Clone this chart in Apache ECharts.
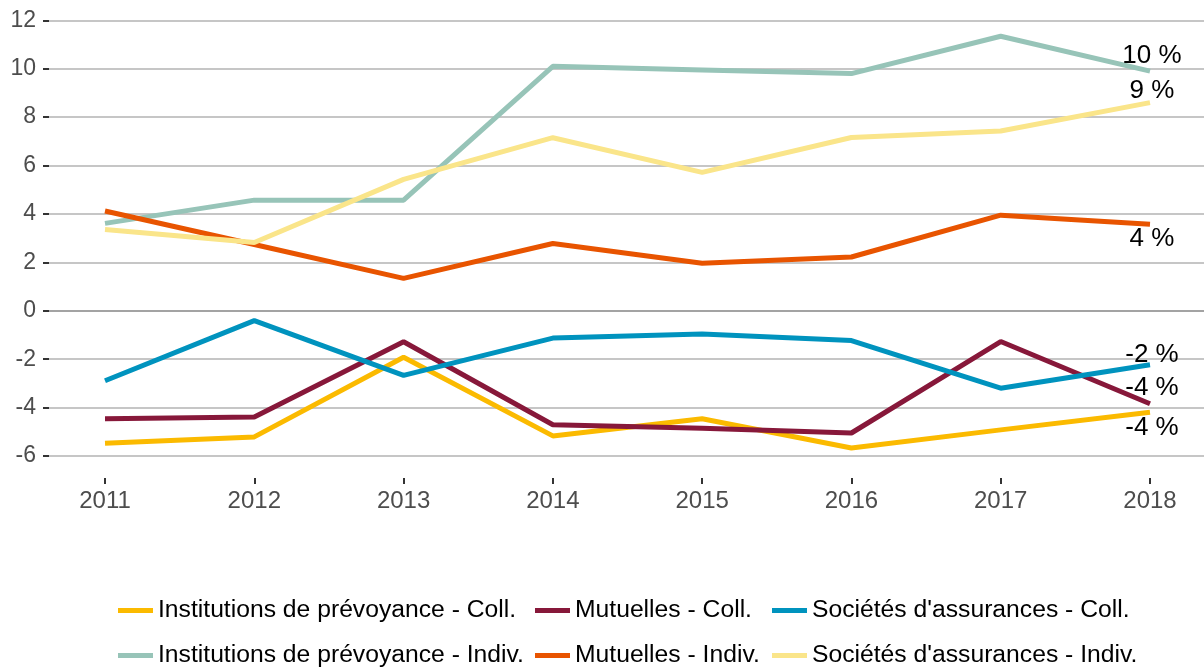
<!DOCTYPE html>
<html>
<head>
<meta charset="utf-8">
<script src="https://cdn.jsdelivr.net/npm/echarts@6/dist/echarts.min.js"></script>
<style>
html,body{margin:0;padding:0;background:#fff;}
#chart{width:1204px;height:668px;}
</style>
</head>
<body>
<div id="chart"></div>
<script>
var years = ['2011','2012','2013','2014','2015','2016','2017','2018'];
var yTicks = [-6, -4, -2, 0, 2, 4, 6, 8, 10, 12];
var names = [
  'Institutions de prévoyance - Coll.',
  'Mutuelles - Coll.',
  "Sociétés d'assurances - Coll.",
  'Institutions de prévoyance - Indiv.',
  'Mutuelles - Indiv.',
  "Sociétés d'assurances - Indiv."
];
var instColl   = [-5.47, -5.21, -1.92, -5.17, -4.46, -5.67, -4.92, -4.19];
var mutColl    = [-4.46, -4.39, -1.28, -4.71, -4.85, -5.05, -1.27, -3.84];
var socColl    = [-2.89, -0.41, -2.67, -1.13, -0.96, -1.23, -3.20, -2.23];
var instIndiv  = [3.61, 4.57, 4.57, 10.10, 9.95, 9.80, 11.34, 9.90];
var mutIndiv   = [4.12, 2.74, 1.34, 2.78, 1.96, 2.22, 3.95, 3.57];
var socIndiv   = [3.36, 2.82, 5.43, 7.15, 5.72, 7.16, 7.43, 8.60];

var seriesValues = [instColl, mutColl, socColl, instIndiv, mutIndiv, socIndiv];
var colors = ['#fbba00', '#87183a', '#0093be', '#97c4b8', '#e85400', '#fae58a'];
var labelDy = [16, -16, -10, -15, 14, -12];

var FONT = "'Liberation Sans', Arial, sans-serif";
var TOP = 20.3, BOTTOM = 668 - 456;

var splitColors = yTicks.map(function (t) { return t === 0 ? '#a3a3a3' : '#c6c6c6'; });

var series = seriesValues.map(function (vals, i) {
  return {
    name: names[i],
    type: 'line',
    xAxisIndex: 0,
    yAxisIndex: 0,
    data: vals,
    showSymbol: false,
    symbol: 'none',
    lineStyle: { color: colors[i], width: 5 },
    itemStyle: { color: colors[i] },
    emphasis: { disabled: true },
    endLabel: {
      show: true,
      formatter: function (p) { return Math.round(p.value) + ' %'; },
      color: '#000',
      fontSize: 26,
      fontFamily: FONT,
      align: 'center',
      verticalAlign: 'middle',
      distance: 0,
      offset: [2, labelDy[i]]
    }
  };
});

function legendCol(items, left) {
  return {
    orient: 'vertical',
    left: left,
    top: 598,
    width: 450,
    height: 120,
    padding: 0,
    itemWidth: 35,
    itemHeight: 5,
    itemGap: 20,
    icon: 'rect',
    selectedMode: false,
    data: items,
    textStyle: { fontSize: 24.7, color: '#000', fontFamily: FONT }
  };
}

var option = {
  animation: false,
  backgroundColor: '#fff',
  textStyle: { fontFamily: FONT },
  grid: [
    { left: 105, right: 54, top: TOP, bottom: BOTTOM, containLabel: false },
    { left: 49, right: 0, top: TOP, bottom: BOTTOM, containLabel: false }
  ],
  legend: [
    legendCol([names[0], names[3]], 118),
    legendCol([names[1], names[4]], 535),
    legendCol([names[2], names[5]], 772)
  ],
  xAxis: [
    {
      type: 'category',
      gridIndex: 0,
      data: years,
      boundaryGap: false,
      offset: 22,
      axisLine: { show: false, onZero: false },
      axisTick: { show: true, length: 6, lineStyle: { color: '#333', width: 2 } },
      axisLabel: { fontSize: 24, color: '#4d4d4d', margin: 11, fontFamily: FONT },
      splitLine: { show: false }
    },
    {
      type: 'value',
      gridIndex: 1,
      show: false,
      min: 0,
      max: 1
    }
  ],
  yAxis: [
    {
      type: 'value',
      gridIndex: 0,
      min: -6,
      max: 12,
      interval: 2,
      show: false,
      splitLine: { show: false }
    },
    {
      type: 'value',
      gridIndex: 1,
      min: -6,
      max: 12,
      interval: 2,
      axisLine: { show: false },
      axisTick: { show: true, length: 6, lineStyle: { color: '#333', width: 2 } },
      axisLabel: { fontSize: 23, color: '#4d4d4d', margin: 13, fontFamily: FONT },
      splitLine: { show: true, lineStyle: { color: splitColors, width: 2 } }
    }
  ],
  series: series
};

var chart = echarts.init(document.getElementById('chart'), null, { renderer: 'canvas' });
chart.setOption(option);
</script>
</body>
</html>
